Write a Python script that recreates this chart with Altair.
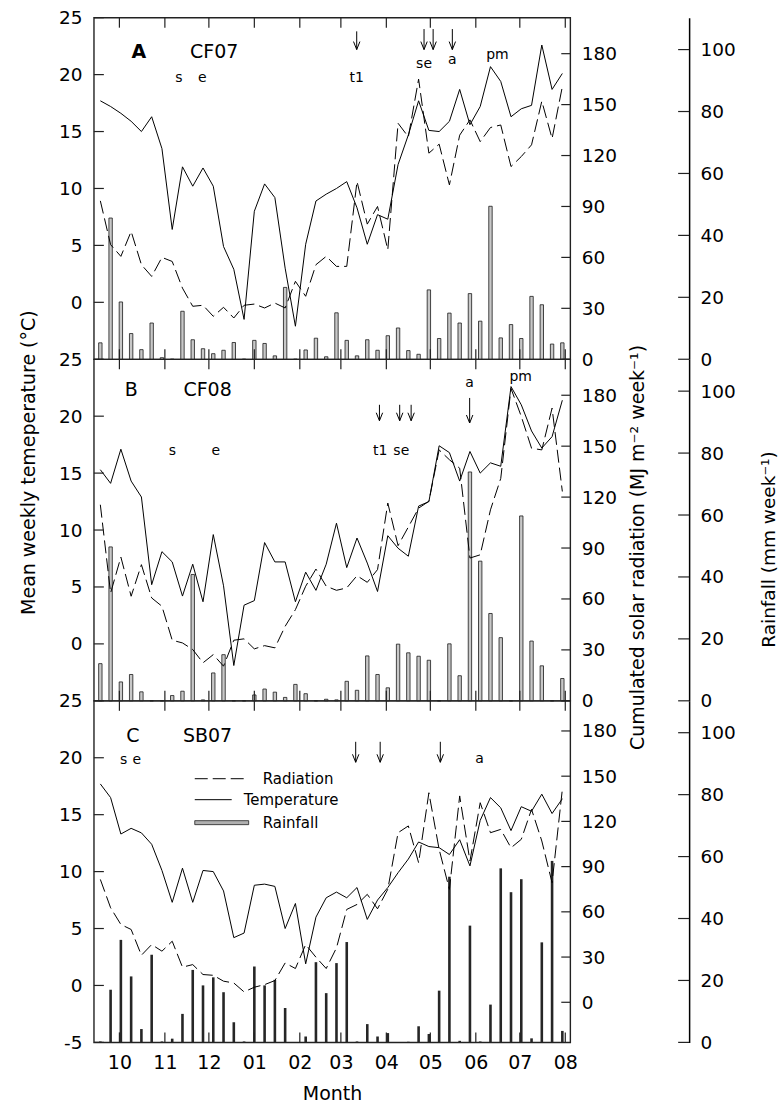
import altair as alt
import pandas as pd

FONT = "DejaVu Sans"
W, H = 477, 342
DAY_DOMAIN = [-14, 304]          # days after 1 October

# ---------------- data ----------------
month_days = [0, 31, 61, 92, 123, 151, 182, 212, 243, 273, 304]
month_labels = ["10", "11", "12", "01", "02", "03", "04", "05", "06", "07", "08"]

# weekly records, first week starting 18 September (day -13)
n_weeks = 46
week_day = [-13 + 7 * i for i in range(n_weeks)]

temp_A = [17.7, 17.2, 16.6, 15.9, 15.0, 16.3, 13.5, 6.4, 11.9, 10.2,
          11.8, 10.2, 4.9, 2.9, -1.5, 8.0, 10.4, 9.2, 3.0, -2.1,
          5.1, 8.9, 9.5, 10.0, 10.6, 8.3, 5.1, 7.7, 7.3, 12.1,
          14.7, 17.7, 15.1, 15.0, 15.9, 18.7, 15.6, 17.2, 20.7, 19.4,
          16.3, 17.0, 17.3, 22.6, 18.7, 20.1]
rad_A = [93.3, 67.5, 60.6, 75.3, 55.7, 48.8, 60.0, 57.6, 41.9, 31.2,
         31.8, 25.3, 30.6, 24.3, 31.8, 32.5, 30.2, 33.1, 30.2, 45.9,
         37.1, 55.7, 60.6, 54.7, 54.7, 104.7, 79.6, 90.0, 64.5, 139.0,
         131.0, 165.0, 121.4, 126.7, 102.7, 132.0, 141.0, 128.2, 136.5, 138.0,
         113.5, 119.4, 126.3, 152.0, 130.0, 160.6]
rain_A = [5.3, 45.6, 18.5, 8.3, 3.1, 11.7, 0.5, 0.0, 15.5, 6.3,
          3.4, 1.8, 2.9, 5.4, 0.0, 6.1, 5.1, 1.1, 23.2, 0.0,
          3.0, 6.8, 0.8, 15.0, 6.1, 1.1, 6.3, 2.9, 7.6, 10.1,
          2.8, 1.6, 22.4, 6.7, 14.9, 11.7, 21.2, 12.3, 49.4, 6.9,
          11.2, 6.7, 20.3, 17.6, 4.9, 5.3]

temp_B = [15.3, 14.1, 17.1, 14.3, 12.9, 5.2, 8.1, 7.2, 4.2, 7.0,
          3.7, 9.6, 5.1, -1.9, 3.4, 3.8, 8.9, 7.2, 7.2, 3.7,
          6.3, 4.7, 7.0, 10.6, 6.7, 9.3, 7.1, 4.6, 9.5, 8.4,
          7.7, 12.1, 12.5, 17.4, 16.8, 14.3, 16.9, 15.0, 15.9, 15.6,
          22.6, 21.0, 18.7, 17.2, 18.2, 21.4]
rad_B = [115.5, 63.5, 84.7, 61.6, 80.2, 60.6, 55.7, 35.7, 34.1, 30.2,
         22.4, 27.2, 20.4, 35.7, 36.5, 30.6, 32.5, 31.2, 43.9, 53.7,
         67.5, 77.6, 67.5, 65.1, 66.5, 73.7, 69.8, 77.3, 116.5, 91.4,
         102.4, 113.5, 117.5, 147.8, 142.0, 137.0, 84.1, 86.0, 112.5, 131.0,
         184.0, 167.5, 148.8, 147.8, 172.4, 123.3]
rain_B = [12.0, 49.7, 6.1, 8.5, 2.9, 0.0, 0.0, 1.7, 3.1, 40.8,
          0.3, 9.0, 14.9, 0.0, 0.0, 1.9, 3.8, 2.8, 1.1, 5.3,
          2.3, 0.0, 0.5, 0.3, 6.3, 3.4, 14.5, 8.5, 4.2, 18.3,
          15.5, 14.4, 13.1, 0.0, 18.4, 8.1, 73.9, 45.1, 28.2, 20.4,
          0.0, 59.7, 19.3, 11.3, 0.0, 7.2]

temp_C = [17.7, 16.5, 13.3, 13.8, 13.4, 12.4, 10.1, 7.3, 10.3, 7.3,
          10.1, 10.0, 8.3, 4.2, 4.6, 8.8, 8.9, 8.7, 5.0, 7.2,
          1.9, 6.0, 7.7, 8.2, 7.7, 8.6, 5.8, 7.5, 8.6, 9.9,
          11.1, 12.6, 12.2, 12.1, 11.5, 12.8, 10.5, 14.5, 16.5, 15.6,
          13.6, 15.7, 15.3, 16.8, 15.1, 16.4]
rad_C = [81.5, 62.7, 51.6, 48.3, 31.2, 38.3, 33.9, 40.5, 23.3, 25.0,
         18.4, 17.9, 14.0, 12.8, 6.9, 10.0, 11.7, 14.4, 26.1, 22.4,
         38.3, 29.9, 22.4, 36.1, 61.6, 64.9, 71.6, 62.0, 75.0, 112.5,
         117.0, 92.6, 139.0, 101.4, 74.9, 136.9, 93.7, 132.4, 112.5, 114.7,
         102.5, 108.1, 128.0, 107.0, 79.3, 141.3]
rain_C = [0.3, 17.0, 33.1, 21.3, 4.3, 28.3, 0.3, 1.2, 9.2, 23.4,
          18.4, 21.0, 16.2, 6.5, 0.3, 24.5, 18.4, 20.2, 11.1, 0.0,
          1.9, 25.9, 15.9, 25.6, 32.4, 0.3, 5.9, 1.9, 3.0, 0.0,
          0.2, 5.2, 2.7, 16.7, 53.5, 0.5, 37.7, 0.3, 12.2, 56.2,
          48.5, 52.7, 1.3, 32.3, 58.6, 3.7]

# annotations (day, temperature-scale position)
ann_A_text = ["s", "e", "t1", "se", "a", "pm"]
ann_A_day = [40.6, 56.6, 161.8, 207.7, 227.0, 257.7]
ann_A_y = [19.7, 19.7, 19.7, 20.9, 21.3, 21.7]
arr_A_day = [161.8, 207.7, 213.9, 227.0]
arr_A_top = [23.8, 24.0, 24.0, 24.0]
arr_A_bot = [22.2, 22.2, 22.2, 22.2]

ann_B_text = ["s", "e", "t1", "se", "a", "pm"]
ann_B_day = [36.2, 65.7, 177.8, 192.2, 238.8, 273.6]
ann_B_y = [16.9, 16.9, 16.9, 16.9, 22.9, 23.4]
arr_B_day = [177.3, 191.1, 198.9, 238.8]
arr_B_top = [21.0, 21.0, 21.0, 21.6]
arr_B_bot = [19.6, 19.6, 19.6, 19.4]

ann_C_text = ["s", "e", "a"]
ann_C_day = [2.9, 11.8, 245.5]
ann_C_y = [19.8, 19.8, 19.9]
arr_C_day = [161.1, 177.8, 218.8]
arr_C_top = [21.4, 21.4, 21.4]
arr_C_bot = [19.6, 19.6, 19.6]

panel_letters = ["A", "B", "C"]
panel_sites = ["CF07", "CF08", "SB07"]
panel_label_day = [13.3, 8.0, 9.1]
panel_label_y = [22.0, 22.3, 21.9]
panel_site_day = [64.6, 60.1, 60.1]

temp_ticks_AB = [0, 5, 10, 15, 20, 25]
temp_ticks_C = [-5, 0, 5, 10, 15, 20, 25]
rad_ticks = [0, 30, 60, 90, 120, 150, 180]
rain_ticks = [0, 20, 40, 60, 80, 100]
legend_labels = ["Radiation", "Temperature", "Rainfall"]

TEMP_DOMAIN = [-5, 25]
RAD_DOMAIN_AB = [0, 201.2]
RAD_DOMAIN_C = [-26.6, 200]
RAIN_DOMAIN = [0, 110.3]

TEMP_TITLE = "Mean weekly temeperature (°C)"
RAD_TITLE = "Cumulated solar radiation (MJ m⁻² week⁻¹)"
RAIN_TITLE = "Rainfall (mm week⁻¹)"

label_expr = ("[" + ",".join(f"'{m}'" for m in month_labels) + "][indexof(["
              + ",".join(str(d) for d in month_days) + "], datum.value)]")

RAIN_OFFSET = 119


def make_panel(idx, temp, rad, rain, ann_text, ann_day, ann_y, arr_day, arr_top, arr_bot,
               rad_domain, temp_ticks, bottom, middle):
    weekly = pd.DataFrame({"day": week_day, "temp": temp, "rad": rad, "rain": rain})
    xs = alt.Scale(domain=DAY_DOMAIN, nice=False, zero=False)
    if bottom:
        x_axis = alt.Axis(values=month_days, labelExpr=label_expr, title="Month",
                          ticks=False, domain=False, grid=False, labelPadding=11,
                          titlePadding=12, labelFontSize=19, titleFontSize=19,
                          labelFlush=False, labelOverlap=False)
    else:
        x_axis = None

    def X(field):
        return alt.X(f"{field}:Q", scale=xs, axis=x_axis)

    t_scale = alt.Scale(domain=TEMP_DOMAIN, nice=False, zero=False)
    r_scale = alt.Scale(domain=rad_domain, nice=False, zero=False)
    p_scale = alt.Scale(domain=RAIN_DOMAIN, nice=False, zero=True)

    temp_axis = alt.Axis(orient="left", values=temp_ticks, ticks=False, tickSize=0,
                         domain=False, grid=False, labelPadding=12, labelFlush=False,
                         labelOverlap=False, labelExpr="datum.value + ''",
                         title=TEMP_TITLE if middle else None, titlePadding=20,
                         titleFontSize=19, titleY=103)
    rad_axis = alt.Axis(orient="right", values=rad_ticks, ticks=False, tickSize=0,
                        domain=False, grid=False, labelPadding=11, labelFlush=False,
                        labelOverlap=False, title=RAD_TITLE if middle else None,
                        titleAngle=270, titleBaseline="top", titlePadding=12,
                        titleFontSize=19, titleY=H / 2 + 17)
    rain_axis = alt.Axis(orient="right", offset=RAIN_OFFSET, values=rain_ticks, ticks=False,
                         tickSize=0, domain=True, domainColor="black", domainWidth=1.5,
                         grid=False, labelPadding=11, labelFlush=False, labelOverlap=False,
                         title=RAIN_TITLE if middle else None, titleAngle=270,
                         titleBaseline="top", titlePadding=24, titleY=H / 2 + 19)

    if bottom:
        bars = alt.Chart(weekly).mark_bar(width=2.6, color="#262626")
    else:
        bars = alt.Chart(weekly).mark_bar(width=3.4, fill="#c8c8c8", stroke="#1a1a1a",
                                          strokeWidth=0.8)
    bars = bars.encode(x=X("day"), y=alt.Y("rain:Q", scale=p_scale, axis=rain_axis))

    rad_line = alt.Chart(weekly).mark_line(color="black", strokeWidth=1,
                                           strokeDash=[13, 5]).encode(
        x=X("day"), y=alt.Y("rad:Q", scale=r_scale, axis=rad_axis))
    temp_line = alt.Chart(weekly).mark_line(color="black", strokeWidth=1).encode(
        x=X("day"), y=alt.Y("temp:Q", scale=t_scale, axis=temp_axis))

    tt = pd.DataFrame({"v": temp_ticks})
    rt = pd.DataFrame({"v": rad_ticks})
    pt = pd.DataFrame({"v": rain_ticks})
    mt = pd.DataFrame({"day": month_days})
    tick_kw = dict(color="#222", strokeWidth=1.2)
    temp_tk = alt.Chart(tt).mark_rule(**tick_kw).encode(
        y=alt.Y("v:Q", scale=t_scale, axis=None), x=alt.value(0), x2=alt.value(10))
    rad_tk = alt.Chart(rt).mark_rule(**tick_kw).encode(
        y=alt.Y("v:Q", scale=r_scale, axis=None), x=alt.value(W - 9), x2=alt.value(W))
    rain_tk = alt.Chart(pt).mark_rule(**tick_kw).encode(
        y=alt.Y("v:Q", scale=p_scale, axis=None),
        x=alt.value(W + RAIN_OFFSET - 11), x2=alt.value(W + RAIN_OFFSET))
    mon_top = alt.Chart(mt).mark_rule(**tick_kw).encode(
        x=X("day"), y=alt.value(0), y2=alt.value(10))
    mon_bot = alt.Chart(mt).mark_rule(**tick_kw).encode(
        x=X("day"), y=alt.value(H - 10), y2=alt.value(H))

    ann = pd.DataFrame({"day": ann_day, "y": ann_y, "text": ann_text})
    ann_layer = alt.Chart(ann).mark_text(font=FONT, fontSize=14, color="black",
                                          baseline="middle").encode(
        x=X("day"), y=alt.Y("y:Q", scale=t_scale, axis=None), text="text:N")

    lab = pd.DataFrame({"day": [panel_label_day[idx]], "y": [panel_label_y[idx]],
                        "text": [panel_letters[idx]]})
    site = pd.DataFrame({"day": [panel_site_day[idx]], "y": [panel_label_y[idx]],
                         "text": [panel_sites[idx]]})
    lab_layer = alt.Chart(lab).mark_text(font=FONT, fontSize=19, color="black",
                                          fontWeight="bold" if idx == 0 else "normal",
                                          baseline="middle").encode(
        x=X("day"), y=alt.Y("y:Q", scale=t_scale, axis=None), text="text:N")
    site_layer = alt.Chart(site).mark_text(font=FONT, fontSize=19, color="black",
                                            baseline="middle").encode(
        x=X("day"), y=alt.Y("y:Q", scale=t_scale, axis=None), text="text:N")

    arr = pd.DataFrame({"day": arr_day, "top": arr_top, "bot": arr_bot})
    arr_shaft = alt.Chart(arr).mark_rule(color="black", strokeWidth=1).encode(
        x=X("day"), y=alt.Y("top:Q", scale=t_scale, axis=None), y2="bot:Q")
    arr_head = alt.Chart(arr).mark_point(shape="M-0.4,-1L0,0L0.4,-1", filled=False,
                                         size=256, color="black", strokeWidth=1,
                                         opacity=1).encode(
        x=X("day"), y=alt.Y("bot:Q", scale=t_scale, axis=None))

    layers = [bars, rad_line, temp_line, temp_tk, rad_tk, rain_tk, mon_top, mon_bot,
              ann_layer, lab_layer, site_layer, arr_shaft, arr_head]

    if bottom:
        lg = pd.DataFrame({"label": legend_labels})
        lg1 = alt.Chart(lg.iloc[[0]]).mark_rule(color="black", strokeWidth=1,
                                                 strokeDash=[13, 5]).encode(
            x=alt.value(101), x2=alt.value(155), y=alt.value(78))
        lg2 = alt.Chart(lg.iloc[[1]]).mark_rule(color="black", strokeWidth=1).encode(
            x=alt.value(101), x2=alt.value(138), y=alt.value(99))
        lg3 = alt.Chart(lg.iloc[[2]]).mark_rect(fill="#b0b0b0", stroke="#222",
                                                 strokeWidth=0.8).encode(
            x=alt.value(101), x2=alt.value(155), y=alt.value(120), y2=alt.value(124))
        lgt1 = alt.Chart(lg.iloc[[0]]).mark_text(font=FONT, fontSize=15, align="left",
                                                  baseline="middle", color="black").encode(
            x=alt.value(169), y=alt.value(78), text="label:N")
        lgt2 = alt.Chart(lg.iloc[[1]]).mark_text(font=FONT, fontSize=15, align="left",
                                                  baseline="middle", color="black").encode(
            x=alt.value(150), y=alt.value(99), text="label:N")
        lgt3 = alt.Chart(lg.iloc[[2]]).mark_text(font=FONT, fontSize=15, align="left",
                                                  baseline="middle", color="black").encode(
            x=alt.value(169), y=alt.value(122), text="label:N")
        layers += [lg1, lg2, lg3, lgt1, lgt2, lgt3]

    return alt.layer(*layers).resolve_scale(y="independent").properties(width=W, height=H)


pA = make_panel(0, temp_A, rad_A, rain_A, ann_A_text, ann_A_day, ann_A_y,
                arr_A_day, arr_A_top, arr_A_bot, RAD_DOMAIN_AB, temp_ticks_AB, False, False)
pB = make_panel(1, temp_B, rad_B, rain_B, ann_B_text, ann_B_day, ann_B_y,
                arr_B_day, arr_B_top, arr_B_bot, RAD_DOMAIN_AB, temp_ticks_AB, False, True)
pC = make_panel(2, temp_C, rad_C, rain_C, ann_C_text, ann_C_day, ann_C_y,
                arr_C_day, arr_C_top, arr_C_bot, RAD_DOMAIN_C, temp_ticks_C, True, False)

chart = alt.vconcat(pA, pB, pC, spacing=0, bounds="flush").properties(
    padding={"left": 18, "top": 7, "right": 2, "bottom": 5}
).configure_view(stroke="#222", strokeWidth=1.4).configure_axis(
    labelFont=FONT, titleFont=FONT, labelColor="black", titleColor="black",
    labelFontSize=18.5, titleFontSize=18.5, titleFontWeight="normal", grid=False
).configure_text(font=FONT)

chart.save("out.html", embed_options={"renderer": "svg", "actions": False})
